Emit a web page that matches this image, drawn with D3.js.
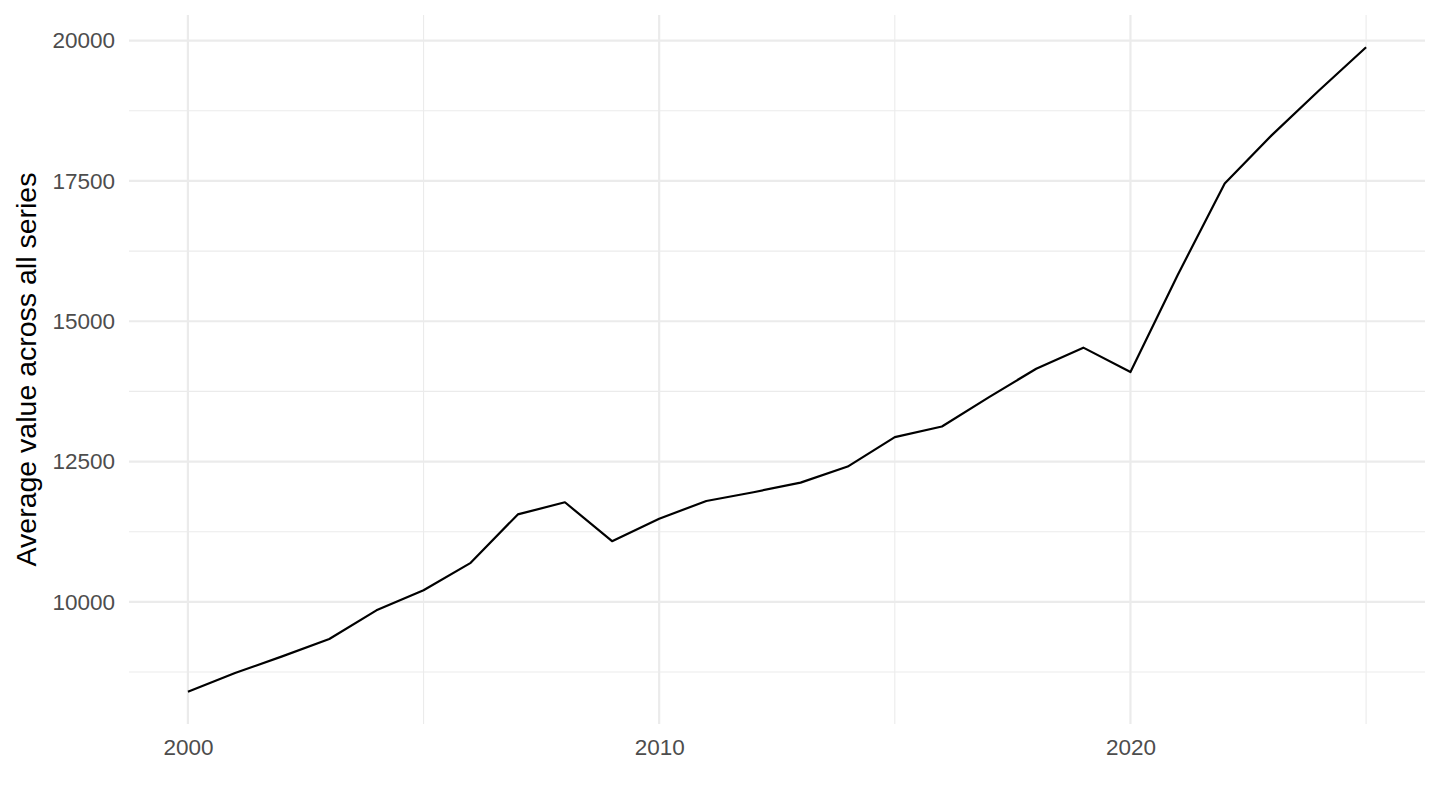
<!DOCTYPE html>
<html>
<head>
<meta charset="utf-8">
<script src="https://cdn.jsdelivr.net/npm/d3@7"></script>
<style>
    body { margin: 0; background: #fff; }
    svg { display: block; font-family: "Liberation Sans", Arial, sans-serif; }
</style>
</head>
<body>
<svg id="canvas"></svg>
<script>
const years = d3.range(2000, 2026);
const values = [
    8399, 8732, 9029, 9339, 9850, 10207, 10696, 11559, 11775, 11082,
    11482, 11798, 11954, 12125, 12411, 12936, 13125, 13648, 14155, 14530,
    14095, 15821, 17453, 18316, 19112, 19882
];
const xTicks = [2000, 2010, 2020];
const xMinor = [2005, 2015, 2025];
const yTicks = [10000, 12500, 15000, 17500, 20000];
const yMinor = [8750, 11250, 13750, 16250, 18750];
const yTitle = "Average value across all series";

const width = 1440, height = 810;
const panelLeft = 129, panelRight = 1425, panelTop = 15, panelBottom = 724;

const data = years.map((yr, i) => ({ year: yr, value: values[i] }));

const svg = d3.select("#canvas")
    .attr("width", width)
    .attr("height", height);

// ggplot-style 5% expansion
const xExt = d3.extent(years), xPad = (xExt[1] - xExt[0]) * 0.05;
const yExt = d3.extent(values), yPad = (yExt[1] - yExt[0]) * 0.05;

const x = d3.scaleLinear()
    .domain([xExt[0] - xPad, xExt[1] + xPad])
    .range([panelLeft, panelRight]);

const y = d3.scaleLinear()
    .domain([yExt[0] - yPad, yExt[1] + yPad])
    .range([panelBottom, panelTop]);

const grid = svg.append("g");

grid.selectAll(".vminor")
    .data(xMinor)
    .enter()
    .append("line")
    .attr("x1", d => x(d)).attr("x2", d => x(d))
    .attr("y1", panelTop).attr("y2", panelBottom)
    .attr("stroke", "#ebebeb").attr("stroke-width", 1.1);

grid.selectAll(".hminor")
    .data(yMinor)
    .enter()
    .append("line")
    .attr("x1", panelLeft).attr("x2", panelRight)
    .attr("y1", d => y(d)).attr("y2", d => y(d))
    .attr("stroke", "#ebebeb").attr("stroke-width", 1.1);

grid.selectAll(".vmajor")
    .data(xTicks)
    .enter()
    .append("line")
    .attr("x1", d => x(d)).attr("x2", d => x(d))
    .attr("y1", panelTop).attr("y2", panelBottom)
    .attr("stroke", "#ebebeb").attr("stroke-width", 2.2);

grid.selectAll(".hmajor")
    .data(yTicks)
    .enter()
    .append("line")
    .attr("x1", panelLeft).attr("x2", panelRight)
    .attr("y1", d => y(d)).attr("y2", d => y(d))
    .attr("stroke", "#ebebeb").attr("stroke-width", 2.2);

const line = d3.line()
    .x(d => x(d.year))
    .y(d => y(d.value));

svg.append("path")
    .datum(data)
    .attr("d", line)
    .attr("fill", "none")
    .attr("stroke", "#000")
    .attr("stroke-width", 2.2)
    .attr("stroke-linejoin", "round");

const yAxis = svg.append("g")
    .attr("transform", `translate(${panelLeft}, 0)`)
    .call(d3.axisLeft(y).tickValues(yTicks).tickSize(0).tickPadding(14).tickFormat(d3.format("d")));
yAxis.select(".domain").remove();
yAxis.selectAll("text")
    .attr("fill", "#4d4d4d")
    .style("font-size", "22.5px");

const xAxis = svg.append("g")
    .attr("transform", `translate(0, ${panelBottom})`)
    .call(d3.axisBottom(x).tickValues(xTicks).tickSize(0).tickPadding(15).tickFormat(d3.format("d")));
xAxis.select(".domain").remove();
xAxis.selectAll("text")
    .attr("fill", "#4d4d4d")
    .style("font-size", "22.5px");

svg.append("text")
    .attr("transform", `translate(36, ${(panelTop + panelBottom) / 2}) rotate(-90)`)
    .attr("text-anchor", "middle")
    .attr("fill", "#000")
    .style("font-size", "28.5px")
    .text(yTitle);
</script>
</body>
</html>
